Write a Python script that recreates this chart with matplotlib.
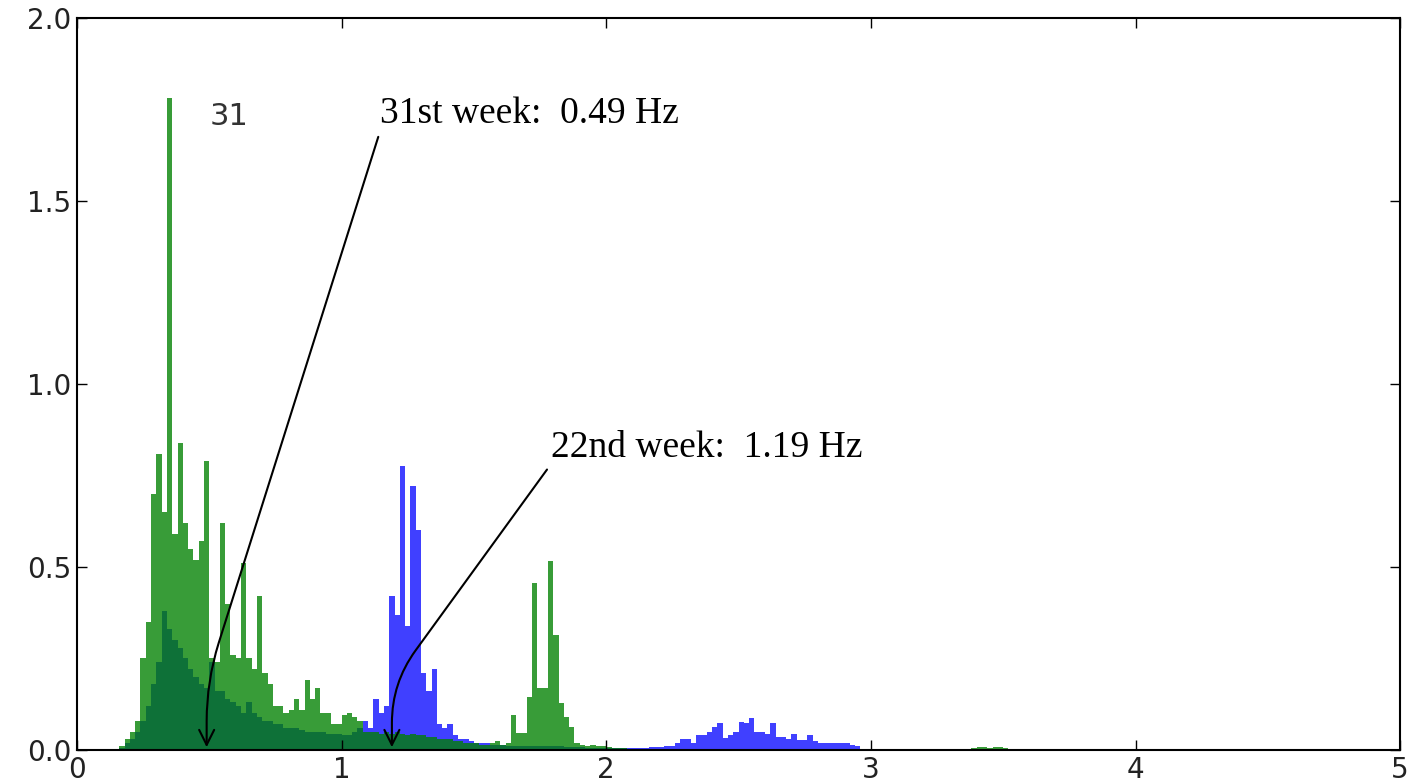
import numpy as np
import matplotlib
matplotlib.use("Agg")
import matplotlib.pyplot as plt

# spectrum amplitudes, bins of 0.02 Hz starting at 0.16 Hz
bin_w = 0.02
start = 0.16

week22 = [0.005, 0.02, 0.03, 0.05, 0.08, 0.12, 0.18, 0.24, 0.38, 0.33,
          0.30, 0.28, 0.25, 0.22, 0.20, 0.18, 0.17, 0.24, 0.16, 0.16,
          0.14, 0.13, 0.12, 0.10, 0.13, 0.10, 0.09, 0.08, 0.08, 0.07,
          0.07, 0.06, 0.06, 0.06, 0.055, 0.05, 0.05, 0.05, 0.05, 0.045,
          0.045, 0.045, 0.04, 0.04, 0.05, 0.06, 0.08, 0.06, 0.14, 0.10,
          0.12, 0.42, 0.37, 0.775, 0.34, 0.72, 0.60, 0.21, 0.16, 0.22,
          0.07, 0.06, 0.07, 0.04, 0.03, 0.03, 0.025, 0.02, 0.02, 0.02,
          0.015, 0.015, 0.015, 0.012, 0.012, 0.01, 0.01, 0.01, 0.01, 0.01,
          0.01, 0.01, 0.01, 0.01, 0.008, 0.008, 0.008, 0.008, 0.006, 0.006,
          0.006, 0.006, 0.005, 0.005, 0.005, 0.005, 0.005, 0.005, 0.006, 0.006,
          0.007, 0.008, 0.008, 0.01, 0.012, 0.02, 0.03, 0.03, 0.02, 0.04,
          0.04, 0.05, 0.064, 0.074, 0.033, 0.04, 0.05, 0.077, 0.074, 0.087,
          0.05, 0.05, 0.045, 0.074, 0.036, 0.036, 0.03, 0.045, 0.027, 0.027,
          0.04, 0.025, 0.02, 0.02, 0.02, 0.02, 0.018, 0.018, 0.015, 0.01]

week31 = [0.01, 0.03, 0.05, 0.08, 0.25, 0.35, 0.70, 0.81, 0.65, 1.78,
          0.59, 0.84, 0.62, 0.55, 0.52, 0.57, 0.79, 0.25, 0.24, 0.62,
          0.40, 0.26, 0.25, 0.51, 0.25, 0.22, 0.42, 0.21, 0.18, 0.12,
          0.12, 0.10, 0.11, 0.14, 0.11, 0.19, 0.14, 0.17, 0.10, 0.10,
          0.07, 0.07, 0.095, 0.10, 0.09, 0.08, 0.05, 0.05, 0.05, 0.045,
          0.05, 0.045, 0.05, 0.045, 0.04, 0.045, 0.04, 0.04, 0.035, 0.035,
          0.03, 0.03, 0.03, 0.025, 0.025, 0.02, 0.02, 0.02, 0.015, 0.015,
          0.02, 0.025, 0.015, 0.02, 0.095, 0.046, 0.046, 0.146, 0.456, 0.17,
          0.17, 0.515, 0.314, 0.128, 0.09, 0.064, 0.02, 0.015, 0.01, 0.015,
          0.01, 0.01, 0.008, 0.006, 0.005, 0.005, 0.004, 0.004, 0.003, 0.003,
          0.003, 0.002, 0.002]

# small hump of week 31 near 3.4-3.6 Hz
start_hi = 3.36
week31_hi = [0.003, 0.005, 0.007, 0.008, 0.006, 0.008, 0.007, 0.005, 0.004, 0.003, 0.002]


def edges(s, vals):
    return np.round(s + bin_w * np.arange(len(vals) + 1), 3)


fig = plt.figure(figsize=(14.1, 7.81), dpi=100)
ax = fig.add_axes([0.0546, 0.0397, 0.9384, 0.9373])

ax.stairs(week22, edges(start, week22), fill=True, color='b', alpha=0.75, linewidth=0)
ax.stairs(week31, edges(start, week31), fill=True, color='g', alpha=0.78, linewidth=0)
ax.stairs(week31_hi, edges(start_hi, week31_hi), fill=True, color='g', alpha=0.78, linewidth=0)

ax.set_xlim(0, 5)
ax.set_ylim(0, 2.0)
ax.set_xticks([0, 1, 2, 3, 4, 5])
ax.set_yticks([0.0, 0.5, 1.0, 1.5, 2.0])
ax.set_yticklabels(['0.0', '0.5', '1.0', '1.5', '2.0'])
ax.tick_params(direction='in', top=True, right=True, length=7, width=1,
               labelsize=20, pad=4, labelcolor='#222222')
for sp in ax.spines.values():
    sp.set_linewidth(1.5)

ax.text(0.573, 1.73, '31', fontsize=22, ha='center', va='center', color='#333333')

serif = ['Liberation Serif', 'DejaVu Serif']
ax.annotate('31st week:  0.49 Hz', xy=(0.49, 0.0), xytext=(1.145, 1.69),
            ha='left', va='bottom', fontsize=27, family=serif,
            arrowprops=dict(arrowstyle='->', color='black', lw=1.5, relpos=(0, 0),
                            connectionstyle='angle,angleA=72.5,angleB=90,rad=40'))
ax.annotate('22nd week:  1.19 Hz', xy=(1.19, 0.0), xytext=(1.79, 0.78),
            ha='left', va='bottom', fontsize=27, family=serif,
            arrowprops=dict(arrowstyle='->', color='black', lw=1.5, relpos=(0, 0),
                            connectionstyle='angle,angleA=54,angleB=90,rad=40'))

fig.savefig('out.png', dpi=100)
